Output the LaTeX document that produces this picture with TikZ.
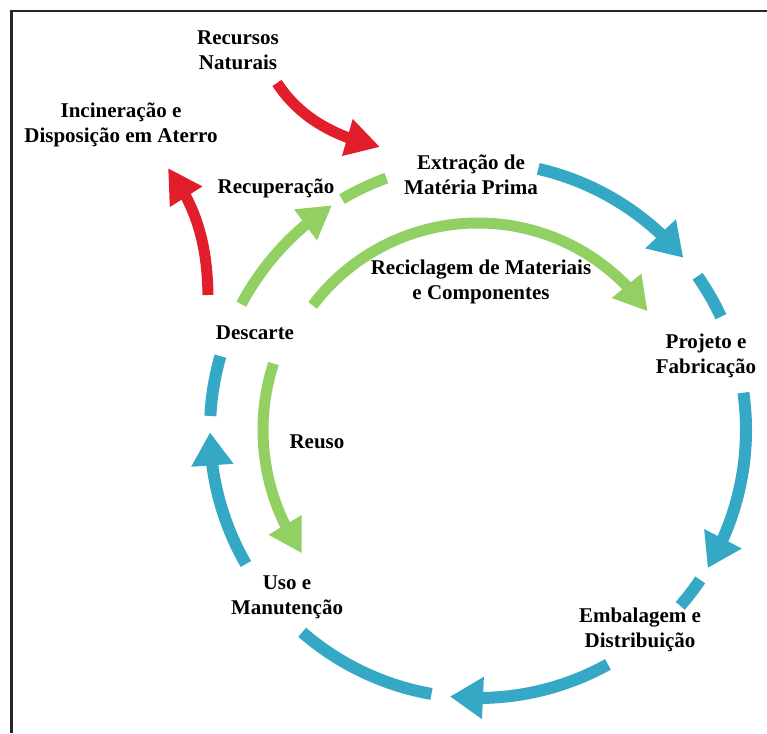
\documentclass[tikz,border=0pt]{standalone}
\usepackage{fontspec}
\setmainfont{Liberation Serif}
\usetikzlibrary{arrows.meta,bending}
\definecolor{cycleblue}{RGB}{52,168,196}
\definecolor{loopgreen}{RGB}{146,208,100}
\definecolor{flowred}{RGB}{226,30,45}
\begin{document}
\begin{tikzpicture}[x=1pt,y=1pt,
  lbl/.style={font=\bfseries\fontsize{21}{25}\selectfont, align=center, inner sep=0pt},
  bluearc/.style={draw=cycleblue, line width=12pt},
  bluehead/.style={bluearc, -{Triangle[width=40pt,length=33pt]}},
  greenarc/.style={draw=loopgreen, line width=11pt},
  greenhead/.style={greenarc, -{Triangle[width=36pt,length=33pt]}},
  redhead/.style={draw=flowred, line width=11pt, -{Triangle[width=36pt,length=34pt]}}]
\useasboundingbox (0,0) rectangle (767,-733);
% frame
\draw[line width=2.2pt, black!85] (11.5,-733) -- (11.5,-11) -- (767,-11);

\coordinate (O) at (478,-430);

% main life cycle (outer ring)
\foreach \a/\b/\st [count=\i] in {77/40/bluehead, 35/25/bluearc, 8/-31/bluehead,
    -34/-41/bluearc, -61/-96/bluehead, -100/-131/bluearc, 210/180.5/bluehead, 177/164/bluearc}{
  \coordinate (blue\i) at ([shift={(O)}]\a:268pt);
  \draw[\st] (blue\i) arc[start angle=\a, end angle=\b, radius=268pt];
}

% recovery, recycling and reuse loops
\coordinate (rec1) at ([shift={(O)}]152:268pt);
\draw[greenhead] (rec1) arc[start angle=152, end angle=123, radius=268pt];
\coordinate (rec2) at ([shift={(O)}]120.5:268pt);
\draw[greenarc] (rec2) arc[start angle=120.5, end angle=110, radius=268pt];
\coordinate (recyc) at ([shift={(O)}]143:207pt);
\draw[greenhead] (recyc) arc[start angle=143, end angle=35, radius=207pt];
\coordinate (reuse) at ([shift={(O)}]162:215pt);
\draw[greenhead] (reuse) arc[start angle=162, end angle=215, radius=215pt];

% inflow and outflow
\coordinate (natS) at (277,-83);
\coordinate (natE) at (380,-147);
\draw[redhead] (natS) .. controls (300,-118) and (335,-137) .. (natE);
\coordinate (incS) at (208,-295);
\coordinate (incE) at (168,-168);
\draw[redhead] (incS) .. controls (207,-240) and (195,-205) .. (incE);

% labels
\node[lbl] (nat)  at (238,-50)  {Recursos\\Naturais};
\node[lbl] (inc)  at (121,-125) {Incineração e\\Disposição em Aterro};
\node[lbl] (recu) at (276,-188) {Recuperação};
\node[lbl] (ext)  at (471,-175) {Extração de\\Matéria Prima};
\node[lbl] (recl) at (481,-282) {Reciclagem de Materiais\\e Componentes};
\node[lbl] (proj) at (706,-356) {Projeto e\\Fabricação};
\node[lbl] (desc) at (255,-333) {Descarte};
\node[lbl] (reus) at (317,-442) {Reuso};
\node[lbl] (uso)  at (287,-597) {Uso e\\Manutenção};
\node[lbl] (emb)  at (640,-630) {Embalagem e\\Distribuição};
\end{tikzpicture}
\end{document}
